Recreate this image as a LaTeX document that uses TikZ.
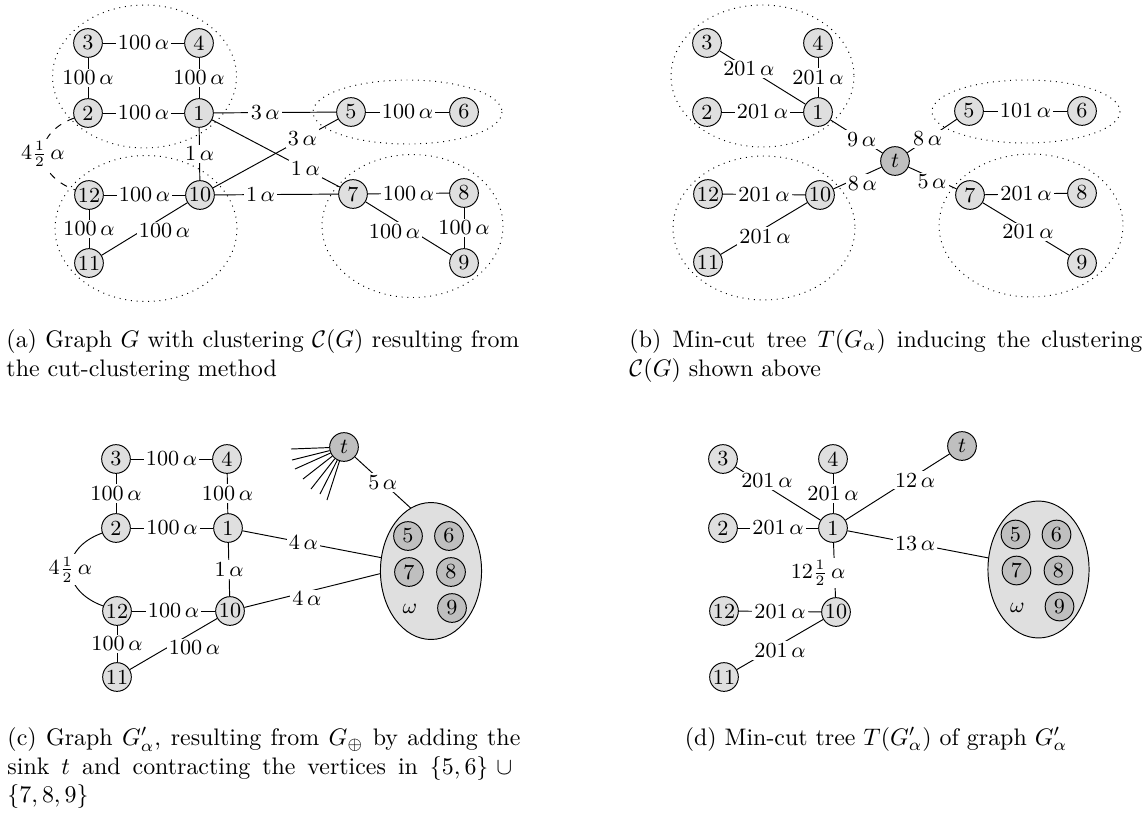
\documentclass[tikz,border=0pt]{standalone}
\usetikzlibrary{shapes.geometric}
\begin{document}
\begin{tikzpicture}[x=0.4184pt, y=-0.4184pt,
  vtx/.style={circle, draw, fill=gray!25, minimum size=12pt, inner sep=0pt, font=\small},
  dark/.style={vtx, fill=gray!50},
  lbl/.style={fill=white, inner sep=1pt, font=\small},
  clus/.style={dotted},
  grp/.style={ellipse, draw, fill=gray!25, minimum width=42.3pt, minimum height=57.3pt, inner sep=0pt},
  captext/.style={inner sep=0pt, text width=214.6pt, align=justify, anchor=north west, font=\normalsize}]
\useasboundingbox (0,0) rectangle (1143,815);

% ---------- (a) graph G with its clustering ----------
\draw[clus] (144.5,76.5) ellipse [x radius=92, y radius=71.5];
\draw[clus] (146,228.5) ellipse [x radius=91, y radius=73];
\draw[clus] (407.5,112) ellipse [x radius=94.5, y radius=32];
\draw[clus] (412.5,226) ellipse [x radius=90.5, y radius=71.5];

\node[vtx] (a3) at (88,43) {3};
\node[vtx] (a4) at (199,43) {4};
\node[vtx] (a2) at (88,113) {2};
\node[vtx] (a1) at (199,113) {1};
\node[vtx] (a12) at (89,195) {12};
\node[vtx] (a10) at (200,195) {10};
\node[vtx] (a11) at (89,263) {11};
\node[vtx] (a5) at (351,112) {5};
\node[vtx] (a6) at (464,112) {6};
\node[vtx] (a7) at (353,194) {7};
\node[vtx] (a8) at (464,193) {8};
\node[vtx] (a9) at (464,263) {9};

\draw (a3) -- node[lbl]{$100\,\alpha$} (a4);
\draw (a3) -- node[lbl]{$100\,\alpha$} (a2);
\draw (a4) -- node[lbl]{$100\,\alpha$} (a1);
\draw (a2) -- node[lbl]{$100\,\alpha$} (a1);
\draw (a1) -- node[lbl]{$1\,\alpha$} (a10);
\draw (a12) -- node[lbl]{$100\,\alpha$} (a10);
\draw (a12) -- node[lbl]{$100\,\alpha$} (a11);
\draw (a10) -- node[lbl, pos=0.5, shift={(20,2)}]{$100\,\alpha$} (a11);
\draw[dashed] (a2) to[out=200, in=160, looseness=1.6] node[lbl]{$4\frac{1}{2}\,\alpha$} (a12);
\draw (a1) -- node[lbl, pos=0.73]{$1\,\alpha$} (a7);
\draw (a10) -- node[lbl, pos=0.715]{$3\,\alpha$} (a5);
\draw (a1) -- node[lbl, pos=0.42]{$3\,\alpha$} (a5);
\draw (a10) -- node[lbl, pos=0.37]{$1\,\alpha$} (a7);
\draw (a5) -- node[lbl]{$100\,\alpha$} (a6);
\draw (a7) -- node[lbl]{$100\,\alpha$} (a8);
\draw (a8) -- node[lbl]{$100\,\alpha$} (a9);
\draw (a7) -- node[lbl, pos=0.5, shift={(-14,3)}]{$100\,\alpha$} (a9);

% ---------- (b) min-cut tree T(G_alpha) ----------
\draw[clus] (762.5,76) ellipse [x radius=91.5, y radius=71];
\draw[clus] (764,228) ellipse [x radius=91, y radius=72];
\draw[clus] (1026,111.5) ellipse [x radius=94, y radius=31.5];
\draw[clus] (1031,225.5) ellipse [x radius=92, y radius=71.5];

\node[vtx] (b3) at (707,43) {3};
\node[vtx] (b4) at (818,43) {4};
\node[vtx] (b2) at (707,112) {2};
\node[vtx] (b1) at (818,112) {1};
\node[vtx] (b12) at (708,194) {12};
\node[vtx] (b10) at (820,195) {10};
\node[vtx] (b11) at (708,262) {11};
\node[dark] (bt) at (895,161) {$t$};
\node[vtx] (b5) at (969,111) {5};
\node[vtx] (b6) at (1082,111) {6};
\node[vtx] (b7) at (970,195) {7};
\node[vtx] (b8) at (1082,193) {8};
\node[vtx] (b9) at (1082,263) {9};

\draw (b3) -- node[lbl, pos=0.34]{$201\,\alpha$} (b1);
\draw (b4) -- node[lbl]{$201\,\alpha$} (b1);
\draw (b2) -- node[lbl]{$201\,\alpha$} (b1);
\draw (b12) -- node[lbl]{$201\,\alpha$} (b10);
\draw (b10) -- node[lbl, pos=0.5, shift={(1,8)}]{$201\,\alpha$} (b11);
\draw (b1) -- node[lbl, pos=0.6]{$9\,\alpha$} (bt);
\draw (b10) -- node[lbl, pos=0.54, shift={(3,6)}]{$8\,\alpha$} (bt);
\draw (bt) -- node[lbl, pos=0.41]{$8\,\alpha$} (b5);
\draw (bt) -- node[lbl, pos=0.52, shift={(-1.5,3.5)}]{$5\,\alpha$} (b7);
\draw (b5) -- node[lbl]{$101\,\alpha$} (b6);
\draw (b7) -- node[lbl]{$201\,\alpha$} (b8);
\draw (b7) -- node[lbl, pos=0.5, shift={(2,3)}]{$201\,\alpha$} (b9);

% ---------- (c) graph G'_alpha ----------
\node[vtx] (c3) at (116,459) {3};
\node[vtx] (c4) at (227,459) {4};
\node[vtx] (c2) at (116,528) {2};
\node[vtx] (c1) at (228,528) {1};
\node[vtx] (c12) at (117,611) {12};
\node[vtx] (c10) at (230,611) {10};
\node[vtx] (c11) at (117,677) {11};
\node[dark] (ct) at (344,447) {$t$};

\node[grp] (om) at (431,571) {};
\node[dark] (w5) at ([shift={(-23,-35)}]om.center) {5};
\node[dark] (w6) at ([shift={(18,-35)}]om.center) {6};
\node[dark] (w7) at ([shift={(-22,1)}]om.center) {7};
\node[dark] (w8) at ([shift={(20,1)}]om.center) {8};
\node[dark] (w9) at ([shift={(21,37)}]om.center) {9};
\node[font=\small, inner sep=0pt] (wl) at ([shift={(-21,38)}]om.center) {$\omega$};

\draw (c3) -- node[lbl]{$100\,\alpha$} (c4);
\draw (c3) -- node[lbl]{$100\,\alpha$} (c2);
\draw (c4) -- node[lbl]{$100\,\alpha$} (c1);
\draw (c2) -- node[lbl]{$100\,\alpha$} (c1);
\draw (c1) -- node[lbl]{$1\,\alpha$} (c10);
\draw (c12) -- node[lbl]{$100\,\alpha$} (c10);
\draw (c12) -- node[lbl]{$100\,\alpha$} (c11);
\draw (c10) -- node[lbl, pos=0.5, shift={(21,4)}]{$100\,\alpha$} (c11);
\draw (c2) to[out=200, in=160, looseness=1.6] node[lbl]{$4\frac{1}{2}\,\alpha$} (c12);
\draw (c1) -- node[lbl, pos=0.44]{$4\,\alpha$} (om.165);
\draw (c10) -- node[lbl, pos=0.46, shift={(0,7)}]{$4\,\alpha$} (om.183);
\draw (ct) -- node[lbl, pos=0.5]{$5\,\alpha$} (om.108);

% edges from the sink to the remaining vertices
\coordinate (s1) at (291,449);
\coordinate (s2) at (292,460);
\coordinate (s3) at (295,469);
\coordinate (s4) at (303,479);
\coordinate (s5) at (311,489);
\coordinate (s6) at (320,494);
\coordinate (s7) at (327,500);
\foreach \s in {s1,s2,s3,s4,s5,s6,s7} \draw (ct) -- (\s);

% ---------- (d) min-cut tree T(G'_alpha) ----------
\node[vtx] (d3) at (723,459) {3};
\node[vtx] (d4) at (833,459) {4};
\node[vtx] (d2) at (723,528) {2};
\node[vtx] (d1) at (833,528) {1};
\node[vtx] (d12) at (724,611) {12};
\node[vtx] (d10) at (836,612) {10};
\node[vtx] (d11) at (724,677) {11};
\node[dark] (dt) at (962,446) {$t$};

\node[grp] (om2) at (1038.5,569.5) {};
\node[dark] (v5) at ([shift={(-23,-35)}]om2.center) {5};
\node[dark] (v6) at ([shift={(18,-35)}]om2.center) {6};
\node[dark] (v7) at ([shift={(-22,1)}]om2.center) {7};
\node[dark] (v8) at ([shift={(20,1)}]om2.center) {8};
\node[dark] (v9) at ([shift={(21,37)}]om2.center) {9};
\node[font=\small, inner sep=0pt] (vl) at ([shift={(-21,38)}]om2.center) {$\omega$};

\draw (d3) -- node[lbl, pos=0.34, shift={(2.5,-4)}]{$201\,\alpha$} (d1);
\draw (d4) -- node[lbl]{$201\,\alpha$} (d1);
\draw (d2) -- node[lbl]{$201\,\alpha$} (d1);
\draw (d1) -- node[lbl, pos=0.65, shift={(2,3)}]{$12\,\alpha$} (dt);
\draw (d1) -- node[lbl, pos=0.48]{$13\,\alpha$} (om2.167);
\draw (d1) -- node[lbl, pos=0.5, shift={(-16.5,3)}]{$12\frac{1}{2}\,\alpha$} (d10);
\draw (d12) -- node[lbl]{$201\,\alpha$} (d10);
\draw (d10) -- node[lbl, pos=0.5, shift={(0,6)}]{$201\,\alpha$} (d11);

% ---------- captions ----------
\node[captext] (capa) at (6,329) {(a) Graph $G$ with clustering $\mathcal{C}(G)$ resulting from\linebreak the cut-clustering method};
\node[captext] (capb) at (629,329) {(b) Min-cut tree $T(G_\alpha)$ inducing the clustering\linebreak $\mathcal{C}(G)$ shown above};
\node[captext] (capc) at (7,727) {(c) Graph $G'_\alpha$, resulting from $G_\oplus$ by adding the\linebreak sink $t$ and contracting the vertices in $\{5,6\}\cup{}$\linebreak $\{7,8,9\}$};
\node[inner sep=0pt, anchor=base, font=\normalsize] (capd) at (876,745) {(d) Min-cut tree $T(G'_\alpha)$ of graph $G'_\alpha$};
\end{tikzpicture}
\end{document}
